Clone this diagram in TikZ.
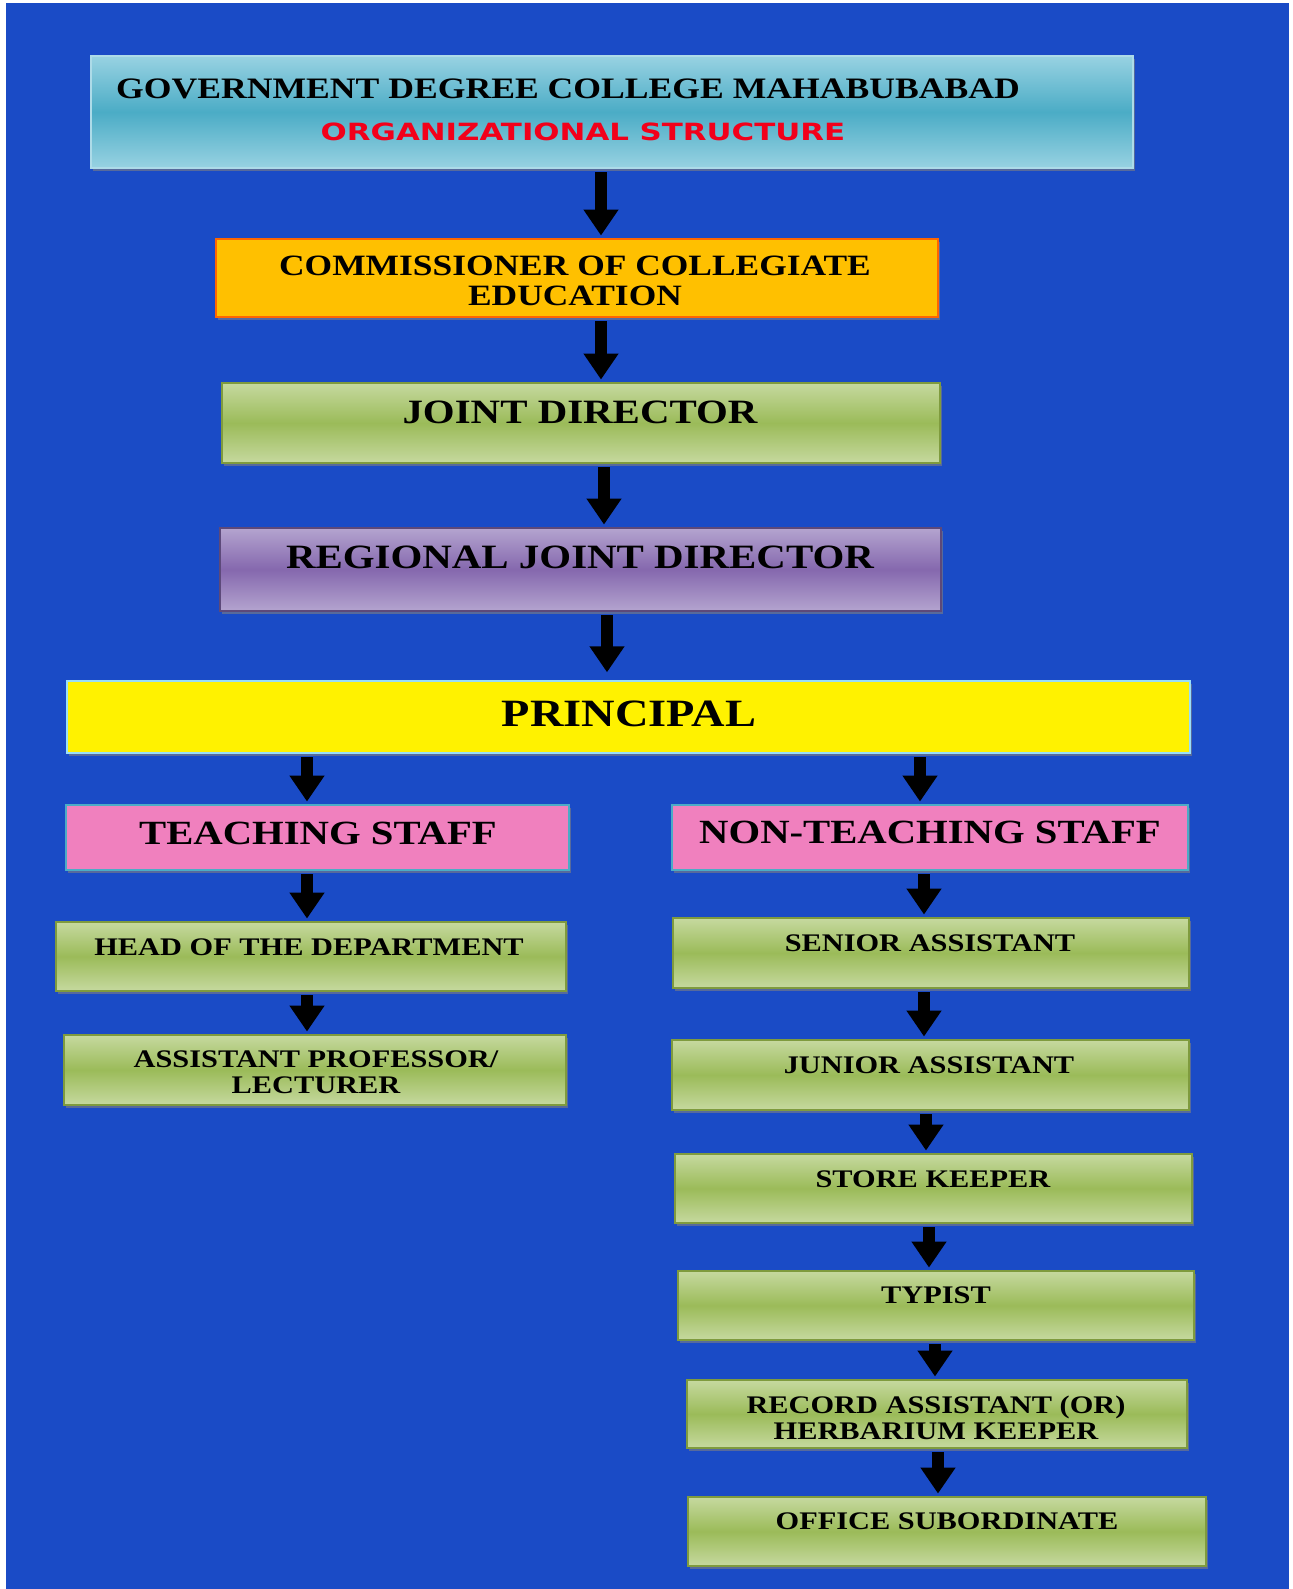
\documentclass[tikz,border=0pt]{standalone}
\usepackage{fontspec}
\setmainfont{Liberation Serif}[FakeStretch=1.2]
\newfontfamily\redfont{DejaVu Sans}[FakeStretch=1.3]
\usetikzlibrary{arrows.meta,fit,shadows}

\definecolor{bgblue}{HTML}{1A4BC6}
\definecolor{skytop}{HTML}{98D2E2}
\definecolor{skymid}{HTML}{4BACC6}
\definecolor{orangebox}{HTML}{FFC000}
\definecolor{oliveedge}{HTML}{7F9B3E}
\definecolor{olivetop}{HTML}{C6D99F}
\definecolor{olivemid}{HTML}{9BBB59}
\definecolor{lavtop}{HTML}{B4A4CF}
\definecolor{lavmid}{HTML}{8568AE}
\definecolor{pinkbox}{HTML}{F080BE}
\definecolor{titlered}{HTML}{F2001A}

\begin{document}
\begin{tikzpicture}[x=0.02cm, y=-0.02cm]
        \tikzstyle{box}=[rectangle, inner sep=0pt, line width=0.9pt, drop shadow={shadow xshift=1.2pt, shadow yshift=-1.8pt, opacity=0.6}]
        \tikzstyle{skybox}=[box, draw=skytop!80!white, top color=skytop, bottom color=skytop, middle color=skymid]
        \tikzstyle{olivebox}=[box, draw=oliveedge, top color=olivetop, bottom color=olivetop, middle color=olivemid]
        \tikzstyle{lavbox}=[box, draw=lavmid!70!black, top color=lavtop, bottom color=lavtop, middle color=lavmid]
        \tikzstyle{txt}=[inner sep=0pt, anchor=base, align=center, text=black]
        \tikzstyle{edge}=[line width=6.3pt, -{Triangle[length=14.8pt, width=19pt]}, shorten <=2pt, shorten >=1.5pt]

        \useasboundingbox (0,0) rectangle (1292,1589);
        \fill[white] (0,0) rectangle (1292,1589);
        \fill[bgblue] (6,3) rectangle (1289,1589);

        % boxes
        \node[skybox, fit={(91,56) (1133,168)}]                                  (title)    {};
        \node[box, fill=orangebox, draw=orange!80!red, fit={(216,239) (938,317)}] (comm)     {};
        \node[olivebox, fit={(222,383) (940,463)}]                               (jd)       {};
        \node[lavbox, fit={(220,528) (941,611)}]                                 (rjd)      {};
        \node[box, fill=yellow, draw=cyan!40!white, fit={(67,681) (1190,753)}]   (prin)     {};
        \node[box, fill=pinkbox, draw=skymid, fit={(66,805) (569,870)}]          (teach)    {};
        \node[box, fill=pinkbox, draw=skymid, fit={(672,805) (1188,870)}]        (nonteach) {};
        \node[olivebox, fit={(56,922) (566,991)}]                                (hod)      {};
        \node[olivebox, fit={(64,1035) (566,1105)}]                              (ap)       {};
        \node[olivebox, fit={(673,918) (1189,988)}]                              (senior)   {};
        \node[olivebox, fit={(672,1040) (1189,1110)}]                            (junior)   {};
        \node[olivebox, fit={(675,1154) (1192,1223)}]                            (store)    {};
        \node[olivebox, fit={(678,1271) (1194,1340)}]                            (typist)   {};
        \node[olivebox, fit={(687,1380) (1187,1448)}]                            (record)   {};
        \node[olivebox, fit={(688,1497) (1206,1566)}]                            (office)   {};

        % texts (two-line ones sit on their last line)
        \node[txt, font=\fontsize{16.9}{20}\selectfont\bfseries] (titlet) at (568,98)  {GOVERNMENT DEGREE COLLEGE MAHABUBABAD};
        \node[txt, font=\fontsize{13.5}{16}\selectfont\redfont\bfseries, text=titlered] (orgt) at (583,140) {ORGANIZATIONAL STRUCTURE};
        \node[txt, font=\fontsize{16.8}{17}\selectfont\bfseries] (commt)  at (575,305)  {COMMISSIONER OF COLLEGIATE\\EDUCATION};
        \node[txt, font=\fontsize{19.4}{22}\selectfont\bfseries] (jdt)    at (580,423)  {JOINT DIRECTOR};
        \node[txt, font=\fontsize{19.4}{22}\selectfont\bfseries] (rjdt)   at (580,568)  {REGIONAL JOINT DIRECTOR};
        \node[txt, font=\fontsize{22}{26}\selectfont\bfseries]   (print)  at (629,726)  {PRINCIPAL};
        \node[txt, font=\fontsize{19.3}{22}\selectfont\bfseries] (teacht) at (318,844)  {TEACHING STAFF};
        \node[txt, font=\fontsize{19.3}{22}\selectfont\bfseries] (nont)   at (930,843)  {NON-TEACHING STAFF};
        \node[txt, font=\fontsize{14.4}{14.8}\selectfont\bfseries] (hodt)    at (309,955)  {HEAD OF THE DEPARTMENT};
        \node[txt, font=\fontsize{14.4}{14.8}\selectfont\bfseries] (apt)     at (316,1093) {ASSISTANT PROFESSOR/\\LECTURER};
        \node[txt, font=\fontsize{14.4}{14.8}\selectfont\bfseries] (seniort) at (930,951)  {SENIOR ASSISTANT};
        \node[txt, font=\fontsize{14.4}{14.8}\selectfont\bfseries] (juniort) at (929,1073) {JUNIOR ASSISTANT};
        \node[txt, font=\fontsize{14.4}{14.8}\selectfont\bfseries] (storet)  at (933,1187) {STORE KEEPER};
        \node[txt, font=\fontsize{14.4}{14.8}\selectfont\bfseries] (typistt) at (936,1303) {TYPIST};
        \node[txt, font=\fontsize{14.4}{14.8}\selectfont\bfseries] (recordt) at (936,1439) {RECORD ASSISTANT (OR)\\HERBARIUM KEEPER};
        \node[txt, font=\fontsize{14.4}{14.8}\selectfont\bfseries] (officet) at (947,1529) {OFFICE SUBORDINATE};

        % arrows
        \draw[edge] (title.south -| 601,0)    -- (comm.north -| 601,0);
        \draw[edge] (comm.south -| 601,0)     -- (jd.north -| 601,0);
        \draw[edge] (jd.south -| 604,0)       -- (rjd.north -| 604,0);
        \draw[edge, shorten >=4.5pt] (rjd.south -| 607,0) -- (prin.north -| 607,0);
        \draw[edge] (prin.south -| 307,0)     -- (teach.north -| 307,0);
        \draw[edge] (prin.south -| 920,0)     -- (nonteach.north -| 920,0);
        \draw[edge] (teach.south -| 307,0)    -- (hod.north -| 307,0);
        \draw[edge] (nonteach.south -| 924,0) -- (senior.north -| 924,0);
        \draw[edge] (hod.south -| 307,0)      -- (ap.north -| 307,0);
        \draw[edge] (senior.south -| 924,0)   -- (junior.north -| 924,0);
        \draw[edge] (junior.south -| 926,0)   -- (store.north -| 926,0);
        \draw[edge] (store.south -| 929,0)    -- (typist.north -| 929,0);
        \draw[edge] (typist.south -| 935,0)   -- (record.north -| 935,0);
        \draw[edge] (record.south -| 938,0)   -- (office.north -| 938,0);
\end{tikzpicture}
\end{document}
